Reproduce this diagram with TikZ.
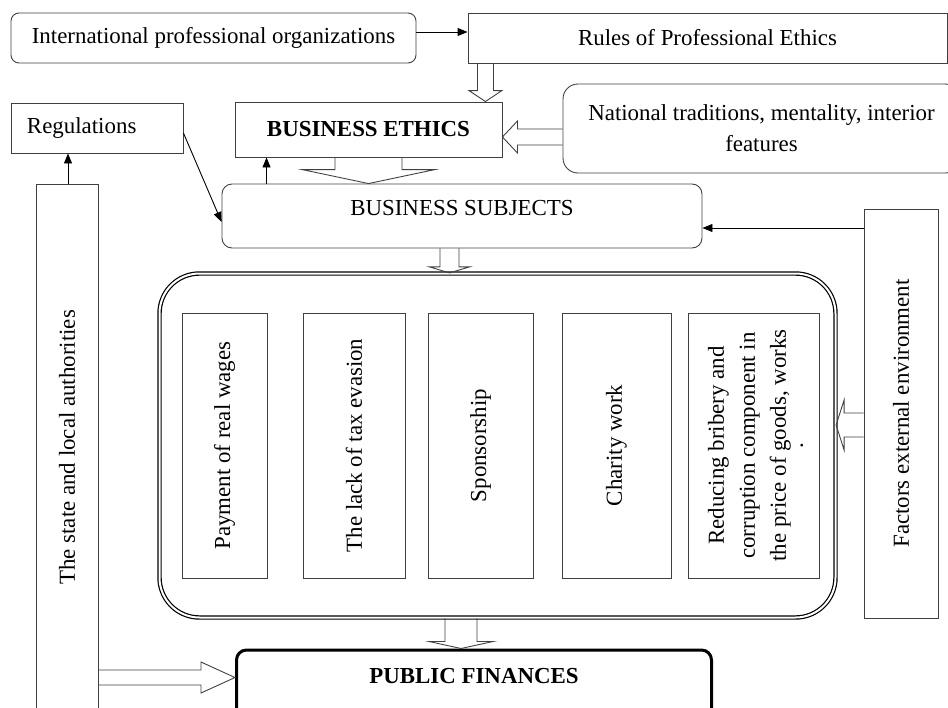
\documentclass[tikz,border=0pt]{standalone}
\usepackage{fontspec}
\setmainfont{Liberation Serif}
\usetikzlibrary{arrows.meta,calc}

\newcommand{\diagfont}{\fontsize{22.9}{31}\selectfont}

\tikzset{
  box/.style={draw=black!75, line width=0.9pt, inner sep=4pt},
  rbox/.style={box, rounded corners=8pt},
  vbox/.style={box, rotate=90, align=flush center},
  hollow/.style={draw=black!75, line width=0.9pt},
  arr/.style={-{Triangle[length=10pt,width=8pt]}, line width=0.9pt},
}

% hollow block arrow: from, to, half shaft, half head, head length
\newcommand{\hollowarrow}[5]{%
  \coordinate (hab) at ($(#2)!#5!(#1)$);
  \draw[hollow] ($(#1)!#3!90:(#2)$) -- ($(hab)!#3!-90:(#1)$) -- ($(hab)!#4!-90:(#1)$)
    -- (#2) -- ($(hab)!#4!90:(#1)$) -- ($(hab)!#3!90:(#1)$) -- ($(#1)!#3!-90:(#2)$);
}

\begin{document}
\begin{tikzpicture}[x=1pt, y=-1pt, font=\diagfont]
    \useasboundingbox (0,0) rectangle (948,707);
    \clip (0,0) rectangle (948,707);

    \node[rbox, minimum width=405, minimum height=50] (intorg) at (213.5,38) {International professional organizations};
    \node[box, minimum width=479, minimum height=50] (rules) at (707.5,38) {Rules of Professional Ethics};
    \node[box, minimum width=172, minimum height=50, text width=140, align=flush left, inner xsep=16] (regs) at (97,128) {Regulations};
    \node[box, minimum width=267, minimum height=55, font=\diagfont\bfseries] (ethics) at (368.5,129.5) {BUSINESS ETHICS};
    \node[box, rounded corners=15, minimum width=397, minimum height=89, text width=370, align=flush center] (natl) at (761.5,128.5) {National traditions, mentality, interior\\ features};
    \node[rbox, rounded corners=10, minimum width=480, minimum height=64, text depth=16] (subj) at (462,216) {BUSINESS SUBJECTS};

    % state, factors
    \node[vbox, minimum width=576, minimum height=62, text width=324, align=flush right, inner xsep=126] (state) at (67,472) {The state and local authorities};
    \node[vbox, minimum width=409, minimum height=74] (factors) at (901,413.5) {Factors external environment};

    % measures
    \node[draw, double, double distance=2pt, line width=1.2pt, rounded corners=40, minimum width=676, minimum height=344] (measures) at (497.5,445.5) {};
    \node[vbox, minimum width=265, minimum height=85] (wages) at (224.5,445.5) {Payment of real wages};
    \node[vbox, minimum width=265, minimum height=102] (tax) at (354,445.5) {The lack of tax evasion};
    \node[vbox, minimum width=265, minimum height=105] (sponsor) at (480.5,445.5) {Sponsorship};
    \node[vbox, minimum width=265, minimum height=109] (charity) at (616.5,445.5) {Charity work};
    \node[vbox, minimum width=265, minimum height=131, text width=250, text height=20] (bribery) at (753.5,445.5) {Reducing bribery and\\ corruption component in\\ the price of goods, works\\[-14pt] .};

    \node[draw, line width=3pt, rounded corners=10, minimum width=475, minimum height=80, text depth=28, font=\diagfont\bfseries] (pubfin) at (474,690) {PUBLIC FINANCES};

    % plain arrows
    \coordinate (io) at ([yshift=6]intorg.east);
    \draw[arr] (io) -- (io -| rules.west);
    \coordinate (se) at ([xshift=32]ethics.south west);
    \draw[arr] (se |- subj.north) -- (se);
    \coordinate (st) at ([xshift=1]state.east);
    \draw[arr] (st) -- (st |- regs.south);
    \draw[arr] ([yshift=-5]regs.east) -- ([yshift=-6]subj.west);
    \coordinate (fs) at ([yshift=-12]subj.east);
    \draw[arr] (fs -| factors.north) -- (fs);

    % hollow arrows
    \coordinate (re) at ([xshift=-17]ethics.north east);
    \coordinate (rs) at (re |- rules.south);
    \hollowarrow{rs}{re}{8pt}{16.5pt}{11pt}
    \coordinate (ne) at ([yshift=-7.5]ethics.east);
    \coordinate (ns) at (ne -| natl.west);
    \hollowarrow{ns}{ne}{8pt}{16pt}{15pt}
    \coordinate (es) at (ethics.south |- subj.north);
    \hollowarrow{ethics.south}{es}{33.5pt}{66.5pt}{14pt}
    \coordinate (sm) at ([xshift=-12.5]subj.south);
    \coordinate (sme) at (sm |- measures.north);
    \hollowarrow{sm}{sme}{9.5pt}{20pt}{6pt}
    \coordinate (fm) at ([yshift=-11.5]factors.center);
    \coordinate (fms) at (fm -| factors.north);
    \coordinate (fme) at (fm -| measures.east);
    \hollowarrow{fms}{fme}{12pt}{25pt}{8pt}
    \coordinate (mp) at ([xshift=-13]pubfin.north);
    \coordinate (mps) at (mp |- measures.south);
    \hollowarrow{mps}{mp}{16pt}{32pt}{7pt}
    \coordinate (sp) at ([yshift=12.5]pubfin.west);
    \coordinate (sps) at (sp -| state.south);
    \hollowarrow{sps}{sp}{7.5pt}{15.5pt}{34pt}
\end{tikzpicture}
\end{document}
